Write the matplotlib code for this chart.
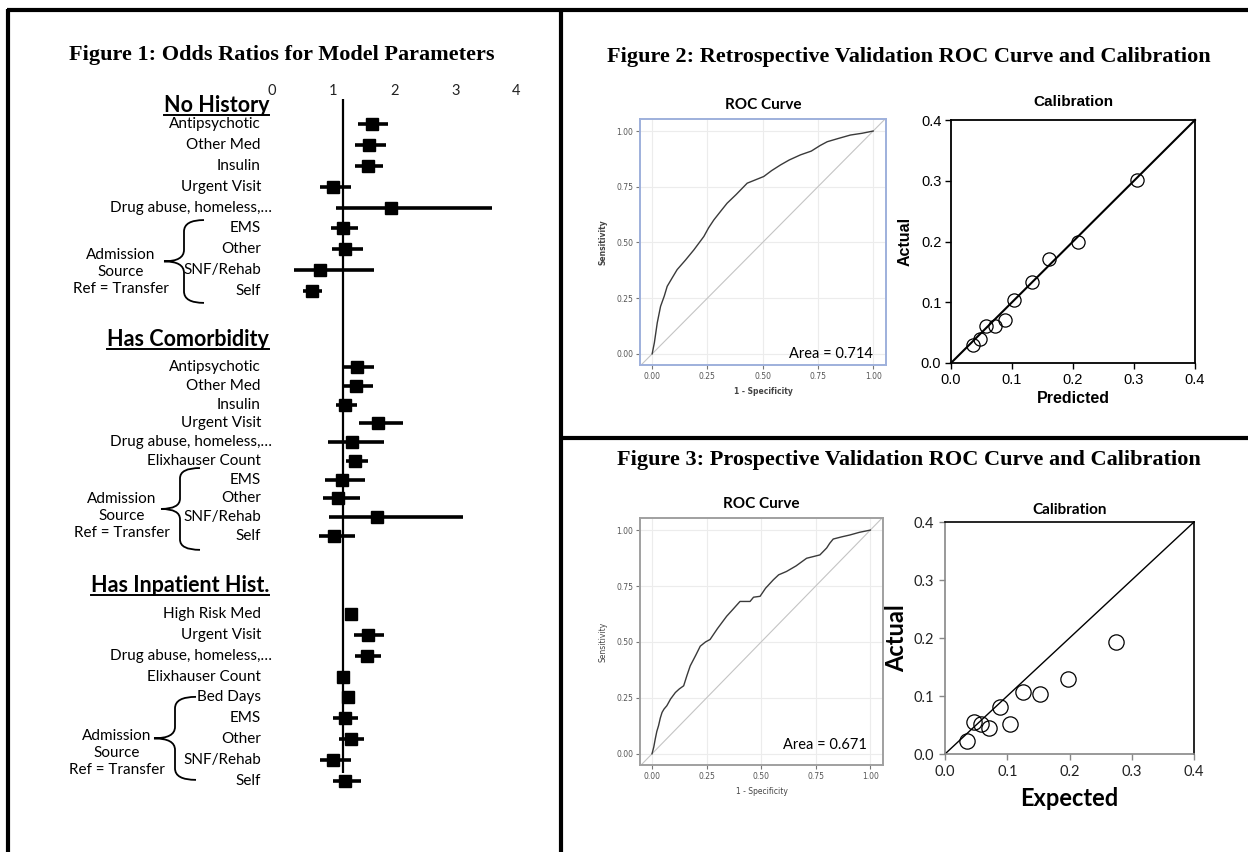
import numpy as np
import matplotlib
matplotlib.use("Agg")
import matplotlib.pyplot as plt
import matplotlib.transforms as mtransforms
from matplotlib.lines import Line2D
from matplotlib.path import Path
from matplotlib.patches import PathPatch

# ---- Figure 1 data: odds ratios with confidence limits ----
nh_labels = ["Antipsychotic", "Other Med", "Insulin", "Urgent Visit",
             "Drug abuse, homeless,\u2026", "EMS", "Other", "SNF/Rehab", "Self"]
nh_or = [1.47, 1.42, 1.41, 0.84, 1.78, 1.00, 1.04, 0.62, 0.49]
nh_lo = [1.24, 1.19, 1.19, 0.63, 0.89, 0.81, 0.82, 0.19, 0.35]
nh_hi = [1.74, 1.71, 1.66, 1.13, 3.44, 1.25, 1.32, 1.51, 0.65]

hc_labels = ["Antipsychotic", "Other Med", "Insulin", "Urgent Visit",
             "Drug abuse, homeless,\u2026", "Elixhauser Count", "EMS", "Other",
             "SNF/Rehab", "Self"]
hc_or = [1.23, 1.22, 1.04, 1.57, 1.15, 1.19, 0.99, 0.92, 1.56, 0.86]
hc_lo = [1.01, 1.01, 0.88, 1.27, 0.75, 1.05, 0.71, 0.67, 0.77, 0.61]
hc_hi = [1.51, 1.49, 1.23, 1.99, 1.67, 1.41, 1.36, 1.28, 2.96, 1.20]

hi_labels = ["High Risk Med", "Urgent Visit", "Drug abuse, homeless,\u2026",
             "Elixhauser Count", "Bed Days", "EMS", "Other", "SNF/Rehab", "Self"]
hi_or = [1.13, 1.41, 1.40, 1.00, 1.09, 1.04, 1.13, 0.84, 1.04]
hi_lo = [1.03, 1.18, 1.19, 0.93, 1.01, 0.84, 0.93, 0.63, 0.84]
hi_hi = [1.25, 1.67, 1.62, 1.09, 1.18, 1.25, 1.35, 1.13, 1.29]

or_ticks = [0, 1, 2, 3, 4]

# ---- Figure 2 / 3 data ----
roc1_fpr = [0, 0.01, 0.023, 0.038, 0.055, 0.068, 0.09, 0.113, 0.15, 0.189, 0.234,
            0.255, 0.279, 0.31, 0.339, 0.38, 0.43, 0.47, 0.505, 0.54, 0.581, 0.62,
            0.671, 0.72, 0.76, 0.792, 0.84, 0.897, 0.95, 1.0]
roc1_tpr = [0, 0.05, 0.139, 0.213, 0.26, 0.303, 0.34, 0.378, 0.42, 0.467, 0.527,
            0.565, 0.601, 0.64, 0.676, 0.715, 0.766, 0.782, 0.796, 0.822, 0.848, 0.87,
            0.893, 0.91, 0.935, 0.952, 0.966, 0.982, 0.99, 1.0]
roc2_fpr = [0, 0.008, 0.015, 0.022, 0.03, 0.038, 0.046, 0.055, 0.068, 0.085, 0.107,
            0.125, 0.145, 0.16, 0.175, 0.2, 0.221, 0.245, 0.266, 0.3, 0.342, 0.37,
            0.403, 0.449, 0.465, 0.495, 0.52, 0.556, 0.58, 0.616, 0.66, 0.708, 0.769,
            0.8, 0.814, 0.83, 0.87, 0.906, 0.95, 1.0]
roc2_tpr = [0, 0.03, 0.067, 0.1, 0.126, 0.16, 0.185, 0.2, 0.215, 0.245, 0.274,
            0.29, 0.304, 0.35, 0.393, 0.44, 0.481, 0.5, 0.511, 0.56, 0.615, 0.645,
            0.681, 0.681, 0.7, 0.704, 0.74, 0.778, 0.8, 0.815, 0.84, 0.874, 0.889,
            0.92, 0.941, 0.96, 0.97, 0.978, 0.99, 1.0]
roc_ticks = [0, 0.25, 0.5, 0.75, 1.0]

cal1_pred = [0.036, 0.047, 0.058, 0.072, 0.088, 0.104, 0.132, 0.161, 0.208, 0.305]
cal1_act = [0.029, 0.040, 0.061, 0.061, 0.071, 0.103, 0.134, 0.171, 0.199, 0.301]
cal2_exp = [0.036, 0.046, 0.058, 0.071, 0.088, 0.104, 0.126, 0.152, 0.198, 0.274]
cal2_act = [0.022, 0.056, 0.051, 0.045, 0.081, 0.051, 0.107, 0.103, 0.129, 0.193]
cal_ticks = [0.0, 0.1, 0.2, 0.3, 0.4]

W, H = 1248, 852
CAL = "Lato"
TIMES = "Liberation Serif"
ARIAL = "Liberation Sans"

fig = plt.figure(figsize=(W / 100, H / 100), dpi=100)


def rect(l, t, r, b):
    return [l / W, 1 - b / H, (r - l) / W, (b - t) / H]


def fline(xs, ys, lw=3.0):
    fig.add_artist(Line2D([x / W for x in xs], [1 - y / H for y in ys],
                          color="black", lw=lw, transform=fig.transFigure,
                          solid_capstyle="butt"))


# panel borders
fline([8, 8], [8.5, H])
fline([6.5, W], [10, 10])
fline([561, 561], [10, H])
fline([561, W], [438, 438])

# titles
fig.text(282 / W, 1 - 55 / H, "Figure 1: Odds Ratios for Model Parameters",
         family=TIMES, weight="bold", size=16, ha="center", va="center")
fig.text(909 / W, 1 - 57 / H,
         "Figure 2: Retrospective Validation ROC Curve and Calibration",
         family=TIMES, weight="bold", size=16, ha="center", va="center")
fig.text(909 / W, 1 - 460 / H,
         "Figure 3: Prospective Validation ROC Curve and Calibration",
         family=TIMES, weight="bold", size=16, ha="center", va="center")

# ---- Figure 1: forest plot in three stacked sections ----
sections = [
    ("No History", nh_labels, nh_or, nh_lo, nh_hi),
    ("Has Comorbidity", hc_labels, hc_or, hc_lo, hc_hi),
    ("Has Inpatient Hist.", hi_labels, hi_or, hi_lo, hi_hi),
]
# layout: pixel box, ylim in row units, header row, brace (top, bottom, tip), brace x (end, spine, tip), text x, text row
layout = [
    dict(box=(99, 315), ylim=(9.15, -1.2), head=-0.91, brace=(4.6, 8.57, 6.58),
         bx=(204, 184, 164), tx=121, trow=7.09),
    dict(box=(315, 560), ylim=(10.28, -2.77), head=-1.44, brace=(5.38, 9.74, 7.56),
         bx=(200, 180, 161), tx=122, trow=7.93),
    dict(box=(560, 773), ylim=(7.62, -2.59), head=-1.39, brace=(3.97, 7.95, 5.96),
         bx=(196, 175, 154), tx=117, trow=6.66),
]
FL, FR = 150, 545
xlim = (1 + (FL - 343) / 61, 1 + (FR - 343) / 61)

headers = []
for k, ((head, labels, est, lo, hi), lay) in enumerate(zip(sections, layout)):
    ax = fig.add_axes(rect(FL, lay["box"][0], FR, lay["box"][1]))
    ax.patch.set_alpha(0)
    for s in ax.spines.values():
        s.set_visible(False)
    ax.set_xlim(*xlim)
    ax.set_ylim(*lay["ylim"])
    ax.set_yticks([])
    if k == 0:
        ax.xaxis.tick_top()
        ax.set_xticks(np.array(or_ticks) - 0.16, [str(t) for t in or_ticks])
        ax.tick_params(axis="x", length=0, pad=1, labelsize=10.5, labelcolor="#222222")
        for t in ax.get_xticklabels():
            t.set_family(CAL)
    else:
        ax.set_xticks([])
    ax.axvline(1, color="black", lw=1.6)
    rows = np.arange(len(labels))
    ax.hlines(rows, lo, hi, color="black", lw=2.6, clip_on=False)
    ax.plot(est, rows, "s", color="black", ms=9, clip_on=False)

    tr = mtransforms.blended_transform_factory(fig.transFigure, ax.transData)
    for r, lab in zip(rows, labels):
        lx = 272 if lab.endswith("\u2026") else 261
        ax.text(lx / W, r, lab, transform=tr, ha="right", va="center",
                family=CAL, size=11, clip_on=False)
    h = ax.text(269 / W, lay["head"], head, transform=tr, ha="right", va="center",
                family=CAL, weight="bold", size=15.5, clip_on=False)
    headers.append(h)

    # curly brace
    yt, yb, ym = lay["brace"]
    xe, xv, xt = [v / W for v in lay["bx"]]
    rr = 0.55
    verts = [(xe, yt), (xv, yt), (xv, yt + rr),
             (xv, ym - rr),
             (xv, ym), (xt, ym),
             (xv, ym), (xv, ym + rr),
             (xv, yb - rr),
             (xv, yb), (xe, yb)]
    codes = [Path.MOVETO, Path.CURVE3, Path.CURVE3, Path.LINETO,
             Path.CURVE3, Path.CURVE3, Path.CURVE3, Path.CURVE3,
             Path.LINETO, Path.CURVE3, Path.CURVE3]
    ax.add_patch(PathPatch(Path(verts, codes), fill=False, lw=1.3,
                           edgecolor="black", transform=tr, clip_on=False))
    ax.text(lay["tx"] / W, lay["trow"], "Admission\nSource\nRef = Transfer",
            transform=tr, ha="center", va="center", family=CAL, size=11,
            linespacing=1.3, clip_on=False)


# ---- ROC panels ----
def roc_panel(box, fpr, tpr, area, spine_col, bold_labels, area_xy):
    ax = fig.add_axes(rect(*box))
    ax.set_xlim(-0.055, 1.058)
    ax.set_ylim(-0.05, 1.054)
    ax.set_xticks(roc_ticks, [f"{t:.2f}" for t in roc_ticks])
    ax.set_yticks(roc_ticks, [f"{t:.2f}" for t in roc_ticks])
    ax.grid(True, color="#ececec", lw=0.8)
    ax.set_axisbelow(True)
    ax.tick_params(labelsize=5.5, length=3, pad=2, colors="#777777",
                   labelcolor="#555555")
    for s in ax.spines.values():
        s.set_color(spine_col)
        s.set_linewidth(1.4)
    ax.plot([-0.055, 1.058], [-0.055, 1.058], color="#c4c4c4", lw=0.8)
    ax.plot(fpr, tpr, color="#3a3a3a", lw=1.0)
    w = "bold" if bold_labels else "normal"
    ax.set_xlabel("1 - Specificity", size=5.5, weight=w, color="#444444", labelpad=4)
    ax.set_ylabel("Sensitivity", size=5.5, weight=w, color="#444444", labelpad=6)
    ax.set_title("ROC Curve", family=CAL, weight="bold", size=11, pad=7)
    ax.text(area_xy[0], area_xy[1], area, ha="right", va="center",
            family=CAL, size=10.5)
    return ax


roc_panel((640, 119, 886, 365), roc1_fpr, roc1_tpr, "Area = 0.714", "#9eb0dc", True,
          (1.0, 0.0))
roc_panel((640, 518, 883, 765), roc2_fpr, roc2_tpr, "Area = 0.671", "#a0a0a0", False,
          (0.985, 0.04))

# ---- Calibration 1 (Arial style) ----
ax = fig.add_axes(rect(951, 120, 1195, 363))
ax.set_xlim(0, 0.4)
ax.set_ylim(0, 0.4)
ax.set_xticks(cal_ticks, [f"{t:.1f}" for t in cal_ticks])
ax.set_yticks(cal_ticks, [f"{t:.1f}" for t in cal_ticks])
ax.tick_params(labelsize=10.5, length=4, width=1, direction="out", pad=3)
for t in ax.get_xticklabels() + ax.get_yticklabels():
    t.set_family(ARIAL)
for s in ax.spines.values():
    s.set_linewidth(1.3)
ax.plot([0, 0.4], [0, 0.4], color="black", lw=1.5, clip_on=False)
ax.plot(cal1_pred, cal1_act, "o", mfc="none", mec="black", ms=9.5, mew=0.9,
        clip_on=False)
ax.set_title("Calibration", family=ARIAL, weight="bold", size=11, pad=10)
ax.set_xlabel("Predicted", family=ARIAL, weight="bold", size=11.5, labelpad=3)
ax.set_ylabel("Actual", family=ARIAL, weight="bold", size=11.5, labelpad=6)

# ---- Calibration 2 (Calibri style) ----
ax = fig.add_axes(rect(945, 522, 1194, 754))
ax.set_xlim(0, 0.4)
ax.set_ylim(0, 0.4)
ax.set_xticks(cal_ticks, [f"{t:.1f}" for t in cal_ticks])
ax.set_yticks(cal_ticks, [f"{t:.1f}" for t in cal_ticks])
ax.tick_params(labelsize=10.5, length=4, width=1, direction="out", pad=4,
               colors="#888888", labelcolor="#222222")
for t in ax.get_xticklabels() + ax.get_yticklabels():
    t.set_family(CAL)
ax.spines["left"].set_color("#888888")
ax.spines["bottom"].set_color("#888888")
for s in ax.spines.values():
    s.set_linewidth(1.2)
ax.plot([0, 0.4], [0, 0.4], color="black", lw=1.0, clip_on=False)
ax.plot(cal2_exp, cal2_act, "o", mfc="none", mec="black", ms=11, mew=0.9,
        clip_on=False)
ax.set_title("Calibration", family=CAL, weight="bold", size=11, pad=6)
ax.set_xlabel("Expected", family=CAL, weight="bold", size=17, labelpad=6)
ax.set_ylabel("Actual", family=CAL, weight="bold", size=17, labelpad=4)

# underline the forest-plot section headers
fig.canvas.draw()
renderer = fig.canvas.get_renderer()
for h in headers:
    bb = h.get_window_extent(renderer)
    y = (bb.y0 + 1) / H
    fig.add_artist(Line2D([bb.x0 / W, bb.x1 / W], [y, y], color="black", lw=1.4,
                          transform=fig.transFigure))

fig.savefig("out.png", dpi=100, facecolor="white")
